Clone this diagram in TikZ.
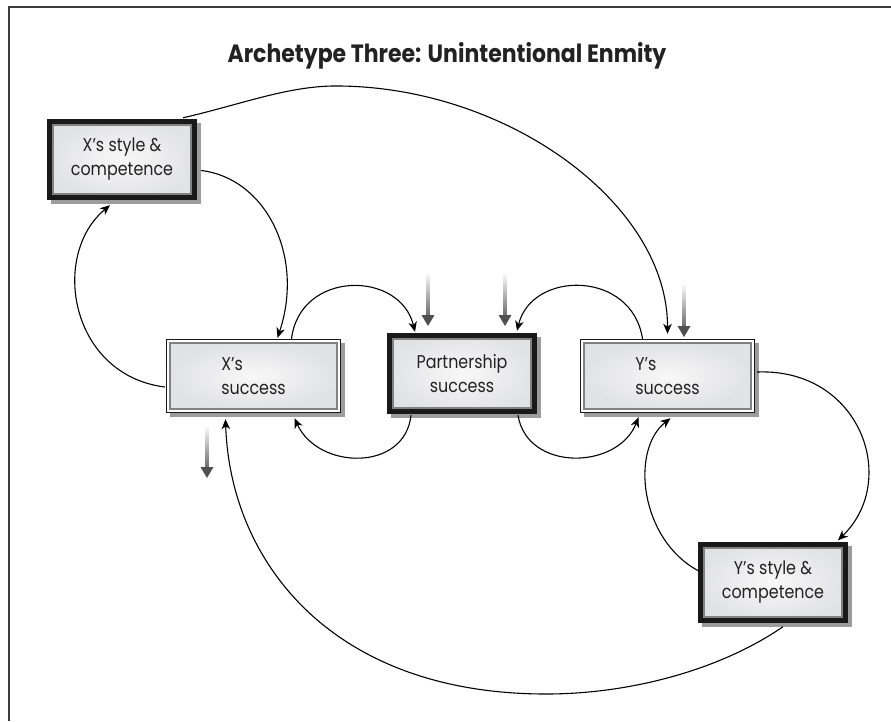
\documentclass[tikz,border=0pt]{standalone}
\usepackage{fontspec}
\setmainfont{Poppins}
\newfontfamily\boxfont{Poppins}[FakeStretch=0.86]
\newfontfamily\titlefont{Poppins}[FakeStretch=0.88]
\usetikzlibrary{arrows.meta,shadows,calc}

\definecolor{framegray}{HTML}{3C3C3C}
\definecolor{shadowgray}{HTML}{9C9C9C}
\definecolor{rimgray}{HTML}{828282}
\definecolor{panelgray}{HTML}{E1E2E4}
\definecolor{panelwhite}{HTML}{F8F8F8}
\definecolor{inflowgray}{HTML}{505050}
\definecolor{inkgray}{HTML}{222222}

\begin{document}
\begin{tikzpicture}[x=1pt,y=-1pt,
  boxtext/.style={font=\boxfont\fontsize{18.5}{24}\selectfont, text=inkgray},
  panel/.style={inner color=panelwhite, outer color=panelgray, draw=rimgray, line width=2pt},
  boxshadow/.style={drop shadow={shadow xshift=4pt, shadow yshift=-4pt, fill=shadowgray, opacity=1}},
  heavybox/.style={rectangle, inner sep=0pt, minimum width=150pt, minimum height=81pt,
    fill=black!90, boxshadow, boxtext, align=center,
    path picture={\shadedraw[panel]
      ([xshift=6pt,yshift=-6pt]path picture bounding box.north west) rectangle
      ([xshift=-6pt,yshift=6pt]path picture bounding box.south east);}},
  lightbox/.style={rectangle, inner sep=0pt, minimum width=175pt, minimum height=74pt,
    fill=black!90, boxshadow, boxtext, align=left,
    path picture={\fill[white]
      ([xshift=1.3pt,yshift=-1.3pt]path picture bounding box.north west) rectangle
      ([xshift=-1.3pt,yshift=1.3pt]path picture bounding box.south east);
      \shadedraw[panel]
      ([xshift=4pt,yshift=-4pt]path picture bounding box.north west) rectangle
      ([xshift=-4pt,yshift=4pt]path picture bounding box.south east);}},
  link/.style={line width=1.1pt, -{Stealth[length=10pt,width=8.5pt,inset=3pt]}}
]
\useasboundingbox (0,0) rectangle (891,721);

% frame
\draw[framegray, line width=2pt] (9,721) -- (9,7) -- (891,7);

% title
\node[font=\titlefont\bfseries\fontsize{25}{29}\selectfont, text=inkgray] (title) at (447,56)
  {Archetype Three: Unintentional Enmity};

% boxes
\node[heavybox] (xsty) at (122,159.5) {X’s style \&\\competence};
\node[lightbox] (xsuc) at (253.5,376) {X’s\\success};
\node[heavybox] (part) at (462,373.5) {Partnership\\success};
\node[lightbox] (ysuc) at (667.5,376) {Y’s\\success};
\node[heavybox] (ysty) at (773,582) {Y’s style \&\\competence};

% causal links
\draw[link] ($(xsty.east)+(4,11)$) .. controls (265,178) and (305,255) .. ($(xsuc.north)+(24,-1)$);
\draw[link] ($(xsuc.west)+(-1,11)$) .. controls (70,375) and (50,255) .. ($(xsty.south)+(-12,5)$);
\draw[link] ($(xsty.north)+(61,-1)$) .. controls (243,104) and (290,85) .. (340,86)
  .. controls (510,88) and (668,205) .. ($(ysuc.north)+(0,-5)$);
\draw[link] ($(xsuc.north)+(38,0)$) .. controls (300,270) and (400,270) .. ($(part.north)+(-47,-1)$);
\draw[link] ($(part.south)+(-51,1)$) .. controls (405,472) and (318,470) .. ($(xsuc.south)+(41,5)$);
\draw[link] ($(part.south)+(56,1)$) .. controls (527,472) and (618,470) .. ($(ysuc.south)+(-29,4)$);
\draw[link] ($(ysuc.north)+(-25,0)$) .. controls (632,270) and (532,270) .. ($(part.north)+(55,-2)$);
\draw[link] ($(ysuc.east)+(2,-4)$) .. controls (860,368) and (900,480) .. ($(ysty.north)+(65,-1)$);
\draw[link] ($(ysty.west)+(1,-11)$) .. controls (640,540) and (630,450) .. ($(ysuc.south)+(3,5)$);
\draw[link] ($(ysty.south)+(10,4)$) .. controls (720,670) and (630,694) .. (546,694)
  .. controls (330,694) and (230,560) .. ($(xsuc.south)+(-28,6)$);

% outside inflows
\coordinate (inAs) at (207,425); \coordinate (inAe) at (207,478);
\coordinate (inBs) at (428,272); \coordinate (inBe) at (428,326);
\coordinate (inCs) at (505,272); \coordinate (inCe) at (505,326);
\coordinate (inDs) at (684,283); \coordinate (inDe) at (684,337);
\foreach \s/\e in {inAs/inAe, inBs/inBe, inCs/inCe, inDs/inDe}{
  \shade[top color=white, bottom color=inflowgray!85]
    ($(\s)+(-1.8,0)$) rectangle ($(\e)+(1.8,-10)$);
  \fill[inflowgray] ($(\e)+(-6.5,-11)$) -- ($(\e)+(6.5,-11)$) -- (\e) -- cycle;
}
\end{tikzpicture}
\end{document}
